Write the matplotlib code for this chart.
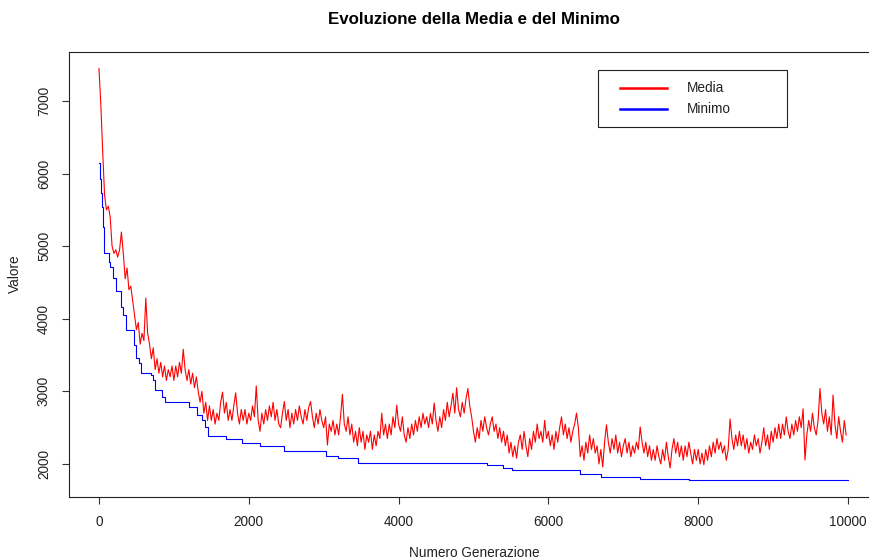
import numpy as np
import matplotlib.pyplot as plt
from matplotlib.patches import Rectangle

plt.rcParams['font.family'] = ['Liberation Sans', 'DejaVu Sans']

# media della popolazione, un valore ogni 25 generazioni
media_step = 25
media = [
    7448, 6950, 6300, 5700, 5500, 5550, 5400, 5000, 4900, 4950, 4850, 4950, 5195, 4900, 4550, 4700, 4400, 4450, 4250, 4050,
    3850, 3950, 3650, 3800, 3700, 4285, 3800, 3650, 3450, 3600, 3300, 3450, 3250, 3400, 3200, 3350, 3150, 3300, 3200, 3350,
    3150, 3350, 3200, 3400, 3250, 3580, 3300, 3150, 3300, 3100, 3250, 3050, 3200, 3000, 2850, 3000, 2700, 2850, 2600, 2800,
    2600, 2750, 2550, 2700, 2600, 2850, 2990, 2700, 2850, 2600, 2750, 2600, 2800, 2980, 2700, 2550, 2750, 2600, 2750, 2550,
    2700, 2600, 2800, 2650, 3075, 2600, 2450, 2700, 2550, 2750, 2600, 2800, 2650, 2850, 2600, 2750, 2550, 2500, 2700, 2860,
    2600, 2750, 2500, 2700, 2550, 2750, 2600, 2800, 2650, 2550, 2750, 2600, 2780, 2860, 2650, 2500, 2700, 2550, 2750, 2600,
    2500, 2650, 2260, 2550, 2450, 2600, 2400, 2550, 2400, 2650, 2960, 2550, 2450, 2650, 2400, 2550, 2300, 2450, 2250, 2500,
    2300, 2450, 2200, 2400, 2300, 2450, 2200, 2400, 2250, 2450, 2350, 2700, 2400, 2550, 2350, 2550, 2400, 2650, 2500, 2810,
    2550, 2450, 2650, 2400, 2300, 2500, 2350, 2550, 2400, 2600, 2450, 2650, 2500, 2700, 2550, 2650, 2500, 2700, 2550, 2840,
    2600, 2450, 2650, 2500, 2750, 2600, 2850, 2650, 2800, 2975, 2700, 3050, 2750, 2650, 2850, 2700, 2900, 3040, 2800, 2650,
    2450, 2300, 2500, 2350, 2600, 2450, 2650, 2500, 2400, 2550, 2650, 2450, 2550, 2350, 2500, 2300, 2450, 2250, 2400, 2150,
    2300, 2100, 2250, 2080, 2300, 2400, 2200, 2450, 2250, 2100, 2350, 2200, 2450, 2300, 2550, 2350, 2450, 2300, 2600, 2350,
    2450, 2250, 2400, 2200, 2450, 2300, 2500, 2650, 2400, 2550, 2350, 2500, 2300, 2450, 2550, 2700, 2500, 2100, 2250, 2050,
    2300, 2150, 2400, 2200, 2350, 2150, 2250, 2000, 2200, 1960, 2300, 2540, 2300, 2150, 2350, 2200, 2400, 2150, 2300, 2100,
    2250, 2350, 2150, 2300, 2100, 2250, 2150, 2300, 2200, 2510, 2300, 2150, 2300, 2100, 2250, 2050, 2200, 2050, 2250, 2100,
    2000, 2200, 2050, 2300, 2100, 1945, 2200, 2350, 2150, 2300, 2100, 2250, 2050, 2250, 2100, 2300, 2150, 2000, 2200, 2050,
    2200, 2000, 2150, 1990, 2200, 2050, 2250, 2100, 2300, 2150, 2350, 2200, 2300, 2150, 2250, 2050, 2200, 2620, 2350, 2200,
    2400, 2250, 2450, 2250, 2400, 2200, 2350, 2150, 2300, 2200, 2400, 2250, 2350, 2150, 2300, 2500, 2250, 2400, 2200, 2450,
    2300, 2500, 2350, 2550, 2350, 2550, 2400, 2650, 2450, 2350, 2550, 2400, 2600, 2450, 2650, 2500, 2760, 2055, 2400, 2600,
    2450, 2700, 2500, 2400, 2600, 3040, 2700, 2550, 2750, 2450, 2650, 2400, 2950, 2550, 2350, 2650, 2450, 2300, 2600, 2400,
]
gen_media = np.arange(len(media)) * media_step

# minimo: generazione in cui cambia e nuovo valore
gen_minimo = [0, 13, 27, 40, 53, 71, 130, 150, 187, 230, 297, 324, 364, 463, 494, 530, 565, 698, 717, 744,
              841, 877, 1198, 1308, 1375, 1419, 1455, 1692, 1905, 2146, 2473, 3031, 3187, 3462, 5176, 5398,
              5510, 6422, 6702, 7223, 7881, 9999]
minimo = [6150, 5921, 5729, 5545, 5269, 4911, 4787, 4718, 4558, 4387, 4158, 4052, 3846, 3639, 3455, 3386, 3258,
          3226, 3157, 3019, 2927, 2858, 2780, 2675, 2606, 2514, 2386, 2349, 2285, 2252, 2179, 2114, 2078, 2008,
          1982, 1949, 1922, 1858, 1821, 1789, 1775, 1775]

x_ticks = [0, 2000, 4000, 6000, 8000, 10000]
y_ticks = [2000, 3000, 4000, 5000, 6000, 7000]

fs = 9.8

fig = plt.figure(figsize=(8.7, 5.6), dpi=100)
# il riquadro prosegue oltre il bordo destro della figura
ax = fig.add_axes([69 / 870, 63 / 560, 809 / 870, 445 / 560])

ax.plot(gen_media, media, color='#ff0000', lw=0.8)
ax.plot(gen_minimo, minimo, color='#0000ff', lw=0.8, drawstyle='steps-post')

ax.set_xlim(-400, 10400)
ax.set_ylim(1545, 7675)
ax.set_xticks(x_ticks)
ax.set_yticks(y_ticks)
ax.tick_params(length=5, width=0.8, color='#333333', labelsize=fs, labelcolor='#222222')
ax.tick_params(axis='x', pad=8)
ax.tick_params(axis='y', pad=8)
for lbl in ax.get_yticklabels():
    lbl.set_rotation(90)
    lbl.set_va('center')
for sp in ax.spines.values():
    sp.set_linewidth(0.8)
    sp.set_color('#222222')

fig.text(474 / 870, 1 - 20 / 560, 'Evoluzione della Media e del Minimo', ha='center', va='center',
         fontsize=12.2, fontweight='bold')
fig.text(474 / 870, 1 - 553 / 560, 'Numero Generazione', ha='center', va='center', fontsize=fs,
         color='#222222')
fig.text(15 / 870, 1 - 274 / 560, 'Valore', ha='center', va='center', rotation=90, fontsize=fs,
         color='#222222')

# legenda disegnata a mano come in R
lx0, lx1 = 598 / 809 * 0 + (598 - 69) / 809, (787 - 69) / 809
ax.add_patch(Rectangle((lx0, 0.8315), lx1 - lx0, 0.128, transform=ax.transAxes, fill=False,
                       lw=0.8, edgecolor='#222222'))
ax.plot([(620 - 69) / 809, (667 - 69) / 809], [0.918, 0.918], transform=ax.transAxes, color='#ff0000', lw=1.8)
ax.plot([(620 - 69) / 809, (667 - 69) / 809], [0.873, 0.873], transform=ax.transAxes, color='#0000ff', lw=1.8)
ax.text((687 - 69) / 809, 0.918, 'Media', transform=ax.transAxes, va='center', fontsize=fs, color='#222222')
ax.text((687 - 69) / 809, 0.873, 'Minimo', transform=ax.transAxes, va='center', fontsize=fs, color='#222222')

plt.savefig('out.png', dpi=100)
